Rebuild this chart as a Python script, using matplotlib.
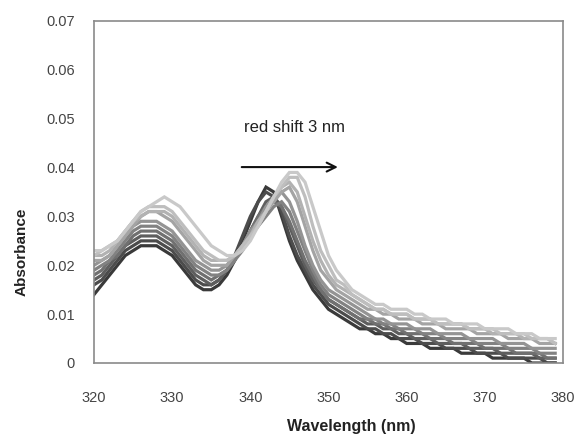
import matplotlib
matplotlib.use("Agg")
import matplotlib.pyplot as plt
import numpy as np

plt.rcParams['font.family'] = ['Liberation Sans', 'DejaVu Sans']

wavelength = list(range(320, 380))  # nm, 1 nm steps

# absorbance in units of 0.001 (mAbs), darkest (earliest) to lightest (latest)
c0 = [14,16,18,20,22,23,24,24,24,23, 22,20,18,16,15,15,16,18,21,25,
      29,33,36,35,30,25,21,18,15,13, 11,10,9,8,7,7,6,6,5,5,
      4,4,4,3,3,3,3,2,2,2, 2,1,1,1,1,1,0,0,0,0]
c1 = [16,17,19,21,23,24,25,25,25,24, 23,21,19,17,16,16,17,19,22,26,
      30,33,35,34,31,26,22,19,16,14, 12,11,10,9,8,7,7,6,6,5,
      5,5,4,4,4,3,3,3,3,2, 2,2,2,1,1,1,1,1,0,0]
c2 = [17,18,20,22,24,25,26,26,26,25, 24,22,20,18,17,16,17,19,21,24,
      27,30,33,34,32,28,24,20,17,15, 13,12,11,10,9,8,8,7,7,6,
      6,5,5,5,4,4,4,4,3,3, 3,3,2,2,2,2,2,1,1,1]
c3 = [18,19,21,22,24,26,27,27,27,26, 25,23,21,19,18,17,18,19,21,24,
      27,30,32,33,32,29,25,21,18,15, 13,12,11,10,9,9,8,8,7,7,
      6,6,6,5,5,5,4,4,4,4, 3,3,3,3,2,2,2,2,1,1]
c4 = [19,20,21,23,25,27,28,28,28,27, 26,24,22,20,19,18,18,19,21,23,
      26,28,30,32,33,31,27,23,19,16, 14,13,12,11,10,9,9,8,8,7,
      7,7,6,6,6,5,5,5,5,4, 4,4,4,3,3,3,3,2,2,2]
c5 = [20,21,22,24,26,28,29,29,29,28, 27,25,23,21,20,19,19,20,22,24,
      27,29,32,34,35,33,29,24,20,17, 15,14,13,12,11,10,9,9,8,8,
      8,7,7,7,6,6,6,6,5,5, 5,5,4,4,4,4,3,3,3,3]
c6 = [21,21,22,24,26,28,30,31,31,30, 29,27,25,23,21,20,20,20,22,24,
      26,29,31,33,35,36,33,28,23,19, 17,15,14,13,12,11,11,10,10,9,
      9,9,8,8,8,7,7,7,7,6, 6,6,6,5,5,5,5,4,4,4]
c7 = [22,22,23,25,27,29,30,31,31,31, 30,28,26,24,22,21,21,21,22,24,
      26,29,31,34,36,37,35,30,25,21, 18,16,15,14,13,12,11,11,10,10,
      10,9,9,9,8,8,8,8,7,7, 7,6,6,6,6,5,5,5,5,4]
c8 = [22,23,24,25,27,29,31,32,32,32, 31,29,27,25,23,22,21,21,22,24,
      26,28,31,34,36,38,38,34,28,23, 20,17,16,14,13,12,11,11,10,10,
      10,9,9,9,8,8,8,8,7,7, 7,7,6,6,6,6,5,5,5,4]
c9 = [23,23,24,25,27,29,31,32,33,34, 33,32,30,28,26,24,23,22,22,23,
      25,28,31,34,37,39,39,37,32,27, 22,19,17,15,14,13,12,12,11,11,
      11,10,10,9,9,9,8,8,8,8, 7,7,7,7,6,6,6,5,5,5]

series = [c0, c1, c2, c3, c4, c5, c6, c7, c8, c9]
colors = ['#3a3a3a', '#4c4c4c', '#5e5e5e', '#707070', '#828282',
          '#949494', '#a4a4a4', '#b2b2b2', '#bebebe', '#c9c9c9']

xticks = [320, 330, 340, 350, 360, 370, 380]
yticks = [0, 0.01, 0.02, 0.03, 0.04, 0.05, 0.06, 0.07]
ytick_labels = ['0', '0.01', '0.02', '0.03', '0.04', '0.05', '0.06', '0.07']

fig = plt.figure(figsize=(5.83, 4.38), dpi=100)
W, H = 583, 438
ax = fig.add_axes([94 / W, 1 - 363 / H, (563 - 94) / W, (363 - 21) / H])

for vals, col in zip(series, colors):
    ax.plot(wavelength, np.array(vals) / 1000.0, color=col, lw=2.3,
            solid_joinstyle='miter')

ax.set_xlim(320, 380)
ax.set_ylim(0, 0.07)
ax.set_xticks(xticks)
ax.set_yticks(yticks)
ax.set_yticklabels(ytick_labels)
ax.tick_params(axis='both', length=0, labelsize=10.5, colors='#444444')
ax.tick_params(axis='x', pad=20)
ax.tick_params(axis='y', pad=14)
for s in ax.spines.values():
    s.set_color('#8a8a8a')
    s.set_linewidth(1.2)

ax.annotate('', xy=(351.2, 0.0401), xytext=(338.9, 0.0401),
            arrowprops=dict(arrowstyle='->', color='#111111', lw=1.5,
                            mutation_scale=16, shrinkA=0, shrinkB=0))
ax.text(339.2, 0.0483, 'red shift 3 nm', fontsize=12, color='#222222',
        ha='left', va='center')

fig.text(22 / W, 1 - 252 / H, 'Absorbance', rotation=90, fontsize=11,
         fontweight='bold', ha='center', va='center', color='#222222')
fig.text(351 / W, 1 - 427 / H, 'Wavelength (nm)', fontsize=11.5,
         fontweight='bold', ha='center', va='center', color='#222222')

fig.savefig('out.png', dpi=100)
